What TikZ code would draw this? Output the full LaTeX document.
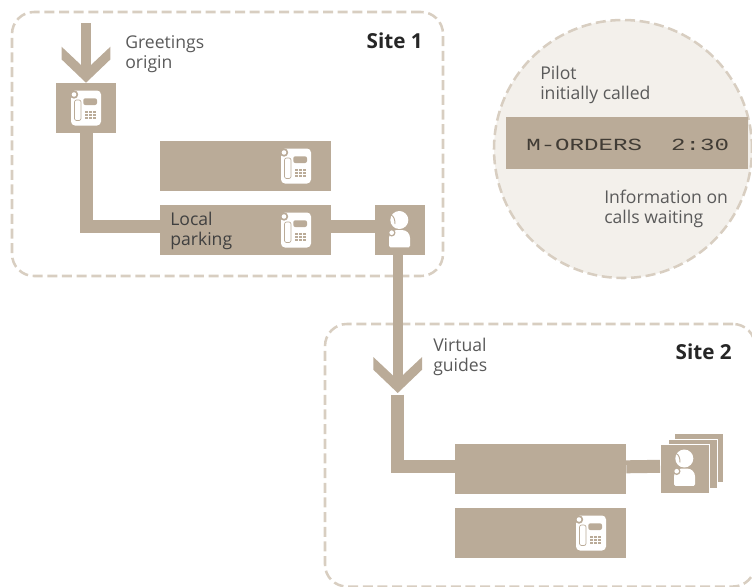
\documentclass[tikz,border=0pt]{standalone}
\usepackage{fontspec}
\setmainfont{Open Sans}
\newfontfamily\lcdfont[FakeStretch=1.42]{Liberation Mono}
\usetikzlibrary{arrows}
\definecolor{boxtan}{HTML}{BAAB98}
\definecolor{dashtan}{HTML}{D8CEC1}
\definecolor{circlefill}{HTML}{F3F0EB}
\definecolor{labelgray}{HTML}{5A5A5A}
\pgfarrowsdeclare{chevron}{chevron}{
	\pgfarrowsleftextend{-17pt}
	\pgfarrowsrightextend{10pt}
}{
	\pgfpathmoveto{\pgfpoint{10pt}{0pt}}
	\pgfpathlineto{\pgfpoint{-7.5pt}{18.3pt}}
	\pgfpathlineto{\pgfpoint{-17pt}{18.3pt}}
	\pgfpathlineto{\pgfpoint{-3.3pt}{3.75pt}}
	\pgfpathlineto{\pgfpoint{-3.3pt}{-3.75pt}}
	\pgfpathlineto{\pgfpoint{-17pt}{-18.3pt}}
	\pgfpathlineto{\pgfpoint{-7.5pt}{-18.3pt}}
	\pgfpathclose
	\pgfusepathqfill
}
\tikzset{
	phoneicon/.pic={
		\fill[white, rounded corners=3pt] (-15,-17.5) rectangle (15,17.5);
		\fill[boxtan] (-12,-13.5) circle (4.2);
		\fill[white] (-12,-13.5) circle (2.3);
		\draw[boxtan, line width=0.5pt, rounded corners=1.5pt] (-11.5,-8) rectangle (-5,12.5);
		\fill[boxtan, rounded corners=1.5pt] (-2.7,-9.7) rectangle (11,-3);
		\foreach \kx in {0.5, 4.5, 8.5}
			\foreach \ky in {4.2, 7.2, 10.2}
				\fill[boxtan] (\kx-1.4,\ky-1.1) rectangle (\kx+1.4,\ky+1.1);
	},
	agenticon/.pic={
		\fill[white] (-0.7,-10) circle (9);
		\draw[boxtan, line width=0.7pt] (-9,-15) .. controls (-6,-14) and (-5,-10) .. (-5,-6);
		\fill[white] (-11,16) [rounded corners=1pt] -- (-11,17.3) -- (-8,17.3) -- (8,17.3) -- (10,17.3) -- (10,14) [rounded corners=6pt] -- (10,0) -- (-11,0) [sharp corners] -- cycle;
		\fill[boxtan] (-8.3,2.7) circle (3.8);
		\fill[white] (-8.3,2.7) circle (2.3);
	}
}
\begin{document}
\begin{tikzpicture}[x=0.75pt, y=-0.75pt, font=\fontsize{13.2}{15.4}\selectfont]
	\tikzstyle{frameStyle}=[draw=dashtan, line width=1.9pt, dash pattern=on 7.5pt off 3.5pt, rounded corners=16.5pt, inner sep=0pt]
	\tikzstyle{circleStyle}=[shape=circle, draw=dashtan, fill=circlefill, line width=1.9pt, dash pattern=on 7.5pt off 3.5pt, inner sep=0pt, minimum size=193.5pt]
	\tikzstyle{wideStyle}=[fill=boxtan, inner sep=0pt, minimum width=128.25pt, minimum height=37.5pt]
	\tikzstyle{squareStyle}=[fill=boxtan, inner sep=0pt, minimum width=37.5pt, minimum height=37.5pt]
	\tikzstyle{stackStyle}=[fill=boxtan, draw=white, line width=0.5pt, inner sep=0pt, minimum width=37pt, minimum height=37pt]
	\tikzstyle{linkStyle}=[boxtan, line width=9.75pt]
	\tikzstyle{arrowStyle}=[boxtan, line width=7.5pt, -chevron]
	\tikzstyle{labelStyle}=[text=labelgray, align=left, inner sep=0pt]
	\tikzstyle{siteStyle}=[anchor=east, inner sep=0pt, text=black!85, font=\fontsize{15.5}{18}\selectfont\bfseries]
	\useasboundingbox (0,0) rectangle (752,586);

	\node[frameStyle, minimum width=323.25pt, minimum height=198pt] (site1) at (227.5,144) {};
	\node[frameStyle, minimum width=322.5pt, minimum height=196.9pt] (site2) at (540,455.25) {};
	\node[circleStyle] (infocircle) at (623,149) {};

	\node[squareStyle, minimum width=45pt] (phonebox) at (86,108) {};
	\node[wideStyle] (topbox) at (245.5,166) {};
	\node[wideStyle] (parkbox) at (245.5,230) {};
	\node[squareStyle] (agentbox) at (400,230) {};
	\node[wideStyle] (huntbox) at (540.5,469) {};
	\node[wideStyle] (lowerbox) at (540.5,533) {};
	\node[stackStyle] (stackback) at (699,458) {};
	\node[stackStyle] (stackmid) at (692.5,463.5) {};
	\node[stackStyle] (agentfront) at (685,468.5) {};
	\node[fill=boxtan, inner sep=0pt, minimum width=181.5pt, minimum height=39pt] (lcdbox) at (627,143) {};

	\coordinate (greetstart) at (86,23);
	\coordinate (guidestart) at (397.7,255);
	\coordinate (guidetip) at (397.7,393);
	\coordinate (guidebase) at (397.8,394.5);

	\draw[arrowStyle] (greetstart) -- (phonebox.north);
	\draw[linkStyle] (phonebox.south) |- ([yshift=2.6pt]parkbox.west);
	\draw[linkStyle] ([yshift=2.6pt]parkbox.east) -- ([yshift=2.6pt]agentbox.west);
	\draw[arrowStyle] (guidestart) -- (guidetip);
	\draw[linkStyle] (guidebase) |- ([yshift=1.65pt]huntbox.west);
	\draw[linkStyle] ([yshift=1.65pt]huntbox.east) -- ([yshift=1.65pt]agentfront.west);

	\pic at (phonebox) {phoneicon};
	\pic at (296,166) {phoneicon};
	\pic at (296,230) {phoneicon};
	\pic at (591,533) {phoneicon};
	\pic at (400,230) {agenticon};
	\pic at (685,468.5) {agenticon};

	\node[labelStyle, anchor=west] (greetlabel) at (125,54) {Greetings\\origin};
	\node[siteStyle] (site1label) at (423,41) {Site 1};
	\node[siteStyle] (site2label) at (732,352) {Site 2};
	\node[labelStyle, anchor=west] (pilotlabel) at (540,85) {Pilot\\initially called};
	\node[labelStyle, anchor=west] (infolabel) at (604,209) {Information on\\calls waiting};
	\node[labelStyle, anchor=west] (virtuallabel) at (433,357) {Virtual\\guides};
	\node[labelStyle, anchor=west, text=black!75] (parklabel) at (170,231) {Local\\parking};
	\node[labelStyle, anchor=west, text=black!65!boxtan, font=\lcdfont\fontsize{12.75}{15}\selectfont] (lcdlabel) at (526,145) {M-ORDERS\ \ 2:30};
\end{tikzpicture}
\end{document}
